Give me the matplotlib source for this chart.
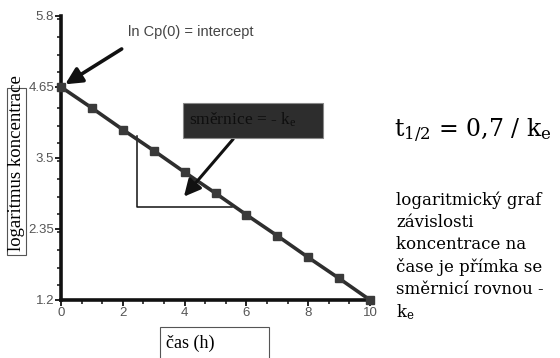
import numpy as np
import matplotlib.pyplot as plt
from matplotlib.patches import Rectangle
from matplotlib.ticker import MultipleLocator

# data
time_h = [0, 1, 2, 3, 4, 5, 6, 7, 8, 9, 10]
log_conc = [4.65, 4.31, 3.96, 3.62, 3.27, 2.93, 2.58, 2.24, 1.89, 1.55, 1.2]
y_ticks = [1.2, 2.35, 3.5, 4.65, 5.8]
y_labels = ['1.2', '2.35', '3.5', '4.65', '5.8']
x_ticks = [0, 2, 4, 6, 8, 10]

# slope triangle corners (data units)
tri_x = [2.46, 2.46, 5.53]
tri_y = [3.85, 2.70, 2.70]

W, H = 560, 358
fig = plt.figure(figsize=(W / 100, H / 100), dpi=100)
plt.rcParams['mathtext.fontset'] = 'dejavuserif'


def px(x, y):
    # pixel position (from top left) -> figure fraction
    return x / W, 1 - y / H


l, t = px(61, 16)
r, b = px(370, 300)
ax = fig.add_axes([l, b, r - l, t - b])

ax.plot(time_h, log_conc, color='#2e2e2e', lw=2.6, marker='s', ms=6,
        mfc='#3a3a3a', mec='#3a3a3a', clip_on=False, zorder=3)
ax.plot(tri_x, tri_y, color='#111111', lw=1.1)

ax.set_xlim(0, 10)
ax.set_ylim(1.2, 5.8)
ax.set_xticks(x_ticks)
ax.set_yticks(y_ticks)
ax.set_yticklabels(y_labels)
ax.xaxis.set_minor_locator(MultipleLocator(2 / 3))
ax.yaxis.set_minor_locator(MultipleLocator(1.15 / 4))
for s in ['top', 'right']:
    ax.spines[s].set_visible(False)
for s in ['left', 'bottom']:
    ax.spines[s].set_linewidth(2.6)
    ax.spines[s].set_color('#111111')
ax.tick_params(which='major', length=4, width=1.4, color='#222222',
               labelsize=9.5, labelcolor='#555555', pad=1)
ax.tick_params(which='minor', length=3, width=1.2, color='#222222')
for lab in ax.get_xticklabels() + ax.get_yticklabels():
    lab.set_family('Liberation Sans')

# annotations
ax.text(2.17, 5.54, 'ln Cp(0) = intercept', fontsize=10.5, color='#444444',
        family='Liberation Sans', va='center', ha='left')
ax.annotate('', xy=(0.06, 4.67), xytext=(2.04, 5.29),
            arrowprops=dict(arrowstyle='-|>,head_length=1.0,head_width=0.5',
                            color='#111111', lw=2.6))
ax.annotate('', xy=(3.92, 2.84), xytext=(5.63, 3.84),
            arrowprops=dict(arrowstyle='-|>,head_length=1.0,head_width=0.5',
                            color='#111111', lw=2.2))

# dark box with slope label
bx0, by0 = px(183, 138)
bx1, by1 = px(323, 103)
fig.patches.append(Rectangle((bx0, by0), bx1 - bx0, by1 - by0,
                             transform=fig.transFigure, facecolor='#2d2d2d',
                             edgecolor='#888888', lw=0.8, zorder=5))
fig.text(*px(189, 120), r'směrnice = - k$\mathregular{_e}$', fontsize=12.5,
         family='Liberation Serif', color='#0e0e0e', va='center', zorder=6)

# y label in a box
yx0, yy0 = px(7, 255)
yx1, yy1 = px(26, 88)
fig.patches.append(Rectangle((yx0, yy0), yx1 - yx0, yy1 - yy0,
                             transform=fig.transFigure, facecolor='none',
                             edgecolor='#555555', lw=0.8))
fig.text(*px(17, 163), 'logaritmus koncentrace', rotation=90, fontsize=13.5,
         family='Liberation Serif', va='center', ha='center')

# x label in a box
xx0, xy0 = px(160, 360)
xx1, xy1 = px(269, 327)
fig.patches.append(Rectangle((xx0, xy0), xx1 - xx0, xy1 - xy0,
                             transform=fig.transFigure, facecolor='none',
                             edgecolor='#555555', lw=0.8))
fig.text(*px(166, 343), 'čas (h)', fontsize=13, family='Liberation Serif',
         va='center', ha='left')

# right side text
fig.text(*px(394, 131), r't$_{1/2}$ = 0,7 / k$_{\mathrm{e}}$', fontsize=17,
         family='DejaVu Serif', va='center', ha='left')
para = ['logaritmický graf', 'závislosti', 'koncentrace na',
        'čase je přímka se', 'směrnicí rovnou -']
for i, line in enumerate(para):
    fig.text(*px(396, 200 + 22.3 * i), line, fontsize=12,
             family='DejaVu Serif', va='center', ha='left')
fig.text(*px(396, 312), r'k$_{\mathrm{e}}$', fontsize=12,
         family='DejaVu Serif', va='center', ha='left')

fig.savefig('out.png', dpi=100)
